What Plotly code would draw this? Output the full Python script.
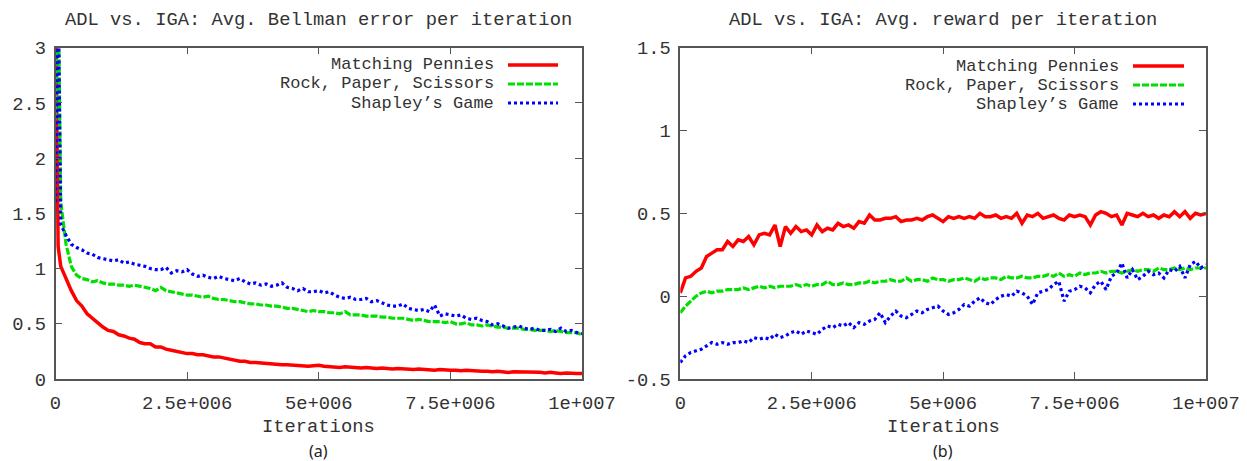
import plotly.graph_objects as go

# ---------------- data ----------------
# Left panel: avg. Bellman error (x: iterations)
iters_left = [0, 50000] + [100000 * k for k in range(1, 101)]
bellman_mp = [3.6, 1.2, 1.02, 0.9, 0.8, 0.71, 0.66, 0.59, 0.55, 0.5, 0.47, 0.44,
              0.43, 0.40, 0.39, 0.37, 0.36, 0.33, 0.32, 0.32, 0.29, 0.29,
              0.27, 0.26, 0.25, 0.24, 0.23, 0.23, 0.22, 0.22, 0.21, 0.2,
              0.2, 0.19, 0.18, 0.17, 0.16, 0.16, 0.15, 0.15, 0.145, 0.14,
              0.14, 0.135, 0.13, 0.13, 0.125, 0.12, 0.12, 0.115, 0.12, 0.125,
              0.115, 0.11, 0.11, 0.105, 0.11, 0.105, 0.1, 0.1, 0.105, 0.1,
              0.095, 0.1, 0.095, 0.09, 0.095, 0.09, 0.09, 0.085, 0.09, 0.085,
              0.085, 0.08, 0.085, 0.08, 0.08, 0.08, 0.075, 0.08, 0.075, 0.07,
              0.07, 0.07, 0.065, 0.07, 0.065, 0.06, 0.065, 0.065, 0.06, 0.06,
              0.06, 0.06, 0.055, 0.06, 0.055, 0.05, 0.055, 0.05, 0.05, 0.05]
bellman_rps = [2.35, 3.6, 1.6, 1.22, 1.02, 0.94, 0.91, 0.9, 0.88, 0.89, 0.87, 0.86,
               0.86, 0.85, 0.85, 0.84, 0.85, 0.84, 0.83, 0.82, 0.8, 0.83,
               0.8, 0.79, 0.78, 0.77, 0.76, 0.76, 0.75, 0.74, 0.75, 0.73,
               0.72, 0.72, 0.71, 0.7, 0.7, 0.69, 0.68, 0.68, 0.67, 0.67,
               0.66, 0.66, 0.65, 0.64, 0.64, 0.63, 0.62, 0.61, 0.62, 0.61,
               0.61, 0.6, 0.6, 0.59, 0.61, 0.58, 0.58, 0.58, 0.57, 0.57,
               0.57, 0.56, 0.56, 0.55, 0.55, 0.55, 0.54, 0.53, 0.54, 0.53,
               0.52, 0.52, 0.52, 0.51, 0.52, 0.5, 0.5, 0.51, 0.49, 0.49,
               0.48, 0.49, 0.48, 0.47, 0.47, 0.46, 0.46, 0.46, 0.45, 0.45,
               0.44, 0.44, 0.44, 0.43, 0.44, 0.43, 0.42, 0.42, 0.42, 0.4]
bellman_shapley = [1.6, 3.6, 1.4, 1.3, 1.22, 1.19, 1.17, 1.14, 1.13, 1.1, 1.09, 1.08,
                   1.07, 1.08, 1.05, 1.06, 1.04, 1.03, 1.02, 1.0, 0.99, 0.99,
                   1.01, 0.96, 0.98, 0.97, 0.99, 0.95, 0.93, 0.94, 0.92, 0.91,
                   0.93, 0.91, 0.9, 0.89, 0.91, 0.88, 0.86, 0.87, 0.85, 0.86,
                   0.84, 0.85, 0.87, 0.83, 0.82, 0.8, 0.82, 0.79, 0.79, 0.8,
                   0.78, 0.79, 0.76, 0.74, 0.73, 0.74, 0.72, 0.72, 0.73, 0.7,
                   0.71, 0.69, 0.67, 0.66, 0.66, 0.68, 0.64, 0.63, 0.62, 0.63,
                   0.61, 0.67, 0.57, 0.59, 0.58, 0.57, 0.58, 0.55, 0.54, 0.55,
                   0.53, 0.52, 0.49, 0.5, 0.48, 0.46, 0.47, 0.48, 0.46, 0.45,
                   0.46, 0.44, 0.44, 0.45, 0.43, 0.46, 0.43, 0.44, 0.42, 0.41]

# Right panel: avg. reward (x: iterations)
iters_right = [100000 * k for k in range(0, 101)]
reward_mp = [0.02, 0.11, 0.12, 0.15, 0.17, 0.24, 0.26, 0.28, 0.28, 0.33,
             0.3, 0.34, 0.33, 0.36, 0.31, 0.37, 0.38, 0.37, 0.43, 0.3,
             0.42, 0.38, 0.42, 0.39, 0.4, 0.37, 0.43, 0.39, 0.41, 0.4,
             0.44, 0.42, 0.43, 0.41, 0.45, 0.44, 0.49, 0.46, 0.46, 0.47,
             0.47, 0.48, 0.45, 0.46, 0.46, 0.47, 0.46, 0.48, 0.49, 0.47,
             0.45, 0.48, 0.47, 0.48, 0.47, 0.48, 0.47, 0.5, 0.48, 0.48,
             0.49, 0.47, 0.48, 0.47, 0.5, 0.44, 0.49, 0.48, 0.5, 0.47,
             0.48, 0.49, 0.47, 0.46, 0.49, 0.48, 0.49, 0.48, 0.43, 0.49,
             0.51, 0.5, 0.48, 0.49, 0.43, 0.5, 0.49, 0.48, 0.5, 0.48,
             0.49, 0.47, 0.49, 0.48, 0.51, 0.48, 0.51, 0.47, 0.5, 0.49, 0.5]
reward_rps = [-0.1, -0.06, -0.03, 0.0, 0.02, 0.03, 0.02, 0.03, 0.03, 0.04,
              0.04, 0.04, 0.05, 0.04, 0.05, 0.06, 0.05, 0.06, 0.05, 0.06,
              0.06, 0.06, 0.07, 0.06, 0.07, 0.06, 0.07, 0.07, 0.09, 0.07,
              0.07, 0.08, 0.07, 0.07, 0.08, 0.08, 0.09, 0.08, 0.09, 0.09,
              0.1, 0.09, 0.09, 0.11, 0.09, 0.1, 0.1, 0.09, 0.11, 0.1,
              0.1, 0.09, 0.1, 0.1, 0.11, 0.1, 0.09, 0.11, 0.1, 0.11,
              0.11, 0.1, 0.12, 0.11, 0.11, 0.12, 0.11, 0.11, 0.12, 0.12,
              0.13, 0.12, 0.14, 0.12, 0.13, 0.12, 0.14, 0.13, 0.14, 0.14,
              0.15, 0.14, 0.15, 0.15, 0.14, 0.15, 0.16, 0.15, 0.16, 0.16,
              0.15, 0.17, 0.16, 0.16, 0.17, 0.16, 0.17, 0.16, 0.17, 0.17, 0.17]
reward_shapley = [-0.4, -0.36, -0.34, -0.33, -0.32, -0.3, -0.28, -0.29, -0.28, -0.29,
                  -0.28, -0.28, -0.27, -0.28, -0.25, -0.26, -0.25, -0.26, -0.23, -0.25,
                  -0.24, -0.22, -0.21, -0.23, -0.21, -0.22, -0.23, -0.2, -0.18, -0.19,
                  -0.17, -0.18, -0.16, -0.19, -0.16, -0.17, -0.15, -0.14, -0.1, -0.16,
                  -0.12, -0.09, -0.12, -0.13, -0.11, -0.09, -0.1, -0.08, -0.07, -0.06,
                  -0.09, -0.11, -0.1, -0.08, -0.05, -0.06, -0.03, -0.01, -0.04, -0.05,
                  -0.02, 0.0, 0.01, 0.0, 0.03, 0.02, 0.0, -0.05, 0.02, 0.03,
                  0.04, 0.07, 0.09, -0.03, 0.03, 0.04, 0.06, 0.05, 0.02, 0.07,
                  0.09, 0.04, 0.12, 0.14, 0.2, 0.11, 0.16, 0.1, 0.12, 0.15,
                  0.13, 0.14, 0.11, 0.16, 0.15, 0.18, 0.11, 0.19, 0.21, 0.17, 0.19]

series_names = ["Matching Pennies", "Rock, Paper, Scissors", "Shapley\u2019s Game"]
x_tickvals = [0, 2500000, 5000000, 7500000, 10000000]
x_ticktext = ["0", "2.5e+006", "5e+006", "7.5e+006", "1e+007"]
left_yticks = [0, 0.5, 1, 1.5, 2, 2.5, 3]
left_yticktext = ["0", "0.5", "1", "1.5", "2", "2.5", "3"]
right_yticks = [-0.5, 0, 0.5, 1, 1.5]
right_yticktext = ["-0.5", "0", "0.5", "1", "1.5"]
titles = ["ADL vs. IGA: Avg. Bellman error per iteration",
          "ADL vs. IGA: Avg. reward per iteration"]
panel_labels = ["(a)", "(b)"]

# ---------------- style ----------------
W, H = 1247, 461
MONO = "Liberation Mono, Courier New, monospace"
TXT = "#333333"
AXC = "#555555"
FS = 18.8
FS_LEG = 17
styles = [
    dict(color="#ff0000", width=3.5, dash="solid"),
    dict(color="#00e000", width=3.2, dash="7px,2px"),
    dict(color="#0000ff", width=3.2, dash="3px,3px"),
]

def px2x(p):
    return p / W

def py2y(p):
    return 1 - p / H

dom_left = [px2x(55.5), px2x(582)]
dom_right = [px2x(680.3), px2x(1206)]
dom_y = [py2y(379), py2y(47.7)]

fig = go.Figure()
left_data = [bellman_mp, bellman_rps, bellman_shapley]
right_data = [reward_mp, reward_rps, reward_shapley]
for name, ys, st in zip(series_names, left_data, styles):
    fig.add_trace(go.Scatter(x=iters_left, y=ys, mode="lines", name=name,
                             line=st, xaxis="x", yaxis="y", showlegend=False,
                             cliponaxis=True))
for name, ys, st in zip(series_names, right_data, styles):
    fig.add_trace(go.Scatter(x=iters_right, y=ys, mode="lines", name=name,
                             line=st, xaxis="x2", yaxis="y2", showlegend=False,
                             cliponaxis=True))

axis_common = dict(showline=True, linecolor=AXC, linewidth=1.5, mirror="allticks",
                   ticks="inside", ticklen=7, tickwidth=1.2, tickcolor=AXC,
                   showgrid=False, zeroline=False,
                   tickfont=dict(family=MONO, size=FS, color=TXT))

fig.update_layout(
    width=W, height=H,
    margin=dict(l=0, r=0, t=0, b=0, autoexpand=False),
    paper_bgcolor="white", plot_bgcolor="white",
    xaxis=dict(domain=dom_left, range=[0, 10000000], tickvals=x_tickvals,
               ticktext=x_ticktext, anchor="y", ticklabelstandoff=6, **axis_common),
    yaxis=dict(domain=dom_y, range=[0, 3], tickvals=left_yticks,
               ticktext=left_yticktext, anchor="x", ticklabelstandoff=4, **axis_common),
    xaxis2=dict(domain=dom_right, range=[0, 10000000], tickvals=x_tickvals,
                ticktext=x_ticktext, anchor="y2", ticklabelstandoff=6, **axis_common),
    yaxis2=dict(domain=dom_y, range=[-0.5, 1.5], tickvals=right_yticks,
                ticktext=right_yticktext, anchor="x2", ticklabelstandoff=4, **axis_common),
    showlegend=False,
)

annotations = []
shapes = []
centers = [(55.5 + 582) / 2, (680.3 + 1206) / 2]
for i, c in enumerate(centers):
    annotations.append(dict(x=px2x(c), y=py2y(20), xref="paper", yref="paper",
                            text=titles[i], showarrow=False, xanchor="center", yanchor="middle",
                            font=dict(family=MONO, size=FS, color=TXT)))
    annotations.append(dict(x=px2x(c), y=py2y(427), xref="paper", yref="paper",
                            text="Iterations", showarrow=False, xanchor="center", yanchor="middle",
                            font=dict(family=MONO, size=FS, color=TXT)))
    annotations.append(dict(x=px2x(c), y=py2y(451), xref="paper", yref="paper",
                            text=panel_labels[i], showarrow=False, xanchor="center", yanchor="middle",
                            font=dict(family="Noto Sans, DejaVu Sans, sans-serif", size=16, color="#222222")))

# manual right-aligned legends (gnuplot style: text then sample on the right)
legend_pos = [dict(text_end=495, s0=508, s1=558, rows=[65, 84, 103]),
              dict(text_end=1120, s0=1133, s1=1184, rows=[66, 85, 104])]
for lp in legend_pos:
    for name, st, ry in zip(series_names, styles, lp["rows"]):
        annotations.append(dict(x=px2x(lp["text_end"]), y=py2y(ry), xref="paper", yref="paper",
                                text=name, showarrow=False, xanchor="right", yanchor="middle",
                                borderpad=0,
                                font=dict(family=MONO, size=FS_LEG, color=TXT)))
        shapes.append(dict(type="line", xref="paper", yref="paper",
                           x0=px2x(lp["s0"]), x1=px2x(lp["s1"]), y0=py2y(ry), y1=py2y(ry),
                           line=dict(color=st["color"], width=st["width"], dash=st["dash"])))

fig.update_layout(annotations=annotations, shapes=shapes)
fig.write_html("out.html", config={"displayModeBar": False},
               post_script="document.body.style.margin='0px';document.body.style.padding='0px';")
